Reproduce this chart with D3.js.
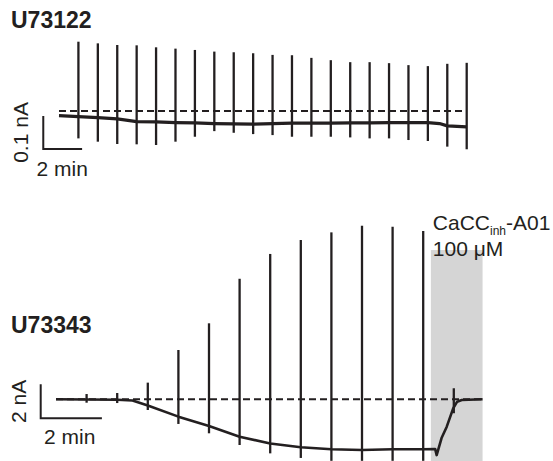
<!DOCTYPE html>
<html><head><meta charset="utf-8">
<script src="https://cdn.jsdelivr.net/npm/d3@7"></script>
<style>html,body{margin:0;padding:0;background:#fff;} svg{display:block;font-family:"Liberation Sans",Arial,sans-serif;}</style>
</head><body>
<svg id="chart" width="553" height="461"></svg>
<script>
// ---------- Panel A: U73122 (time in min, current in nA relative to baseline) ----------
const topTitle = "U73122";
const topSpikeTimes = [1,2,3,4,5,6,7,8,9,10,11,12,13,14,15,16,17,18,19,20,21];
const topSpikeMax = [0.210,0.205,0.200,0.199,0.193,0.189,0.185,0.180,0.178,0.175,0.170,0.169,0.161,0.154,0.148,0.148,0.145,0.139,0.136,0.143,0.146];
const topSpikeMin = [-0.083,-0.093,-0.100,-0.101,-0.103,-0.093,-0.078,-0.061,-0.066,-0.070,-0.073,-0.078,-0.078,-0.078,-0.080,-0.083,-0.083,-0.088,-0.091,-0.108,-0.116];
const topTraceT = [0,1,2,3,4,5,6,7,8,9,10,11,12,13,14,15,16,17,18,19,19.6,20,21];
const topTraceI = [-0.014,-0.017,-0.020,-0.024,-0.032,-0.033,-0.035,-0.036,-0.038,-0.039,-0.040,-0.038,-0.037,-0.037,-0.037,-0.036,-0.036,-0.035,-0.035,-0.035,-0.038,-0.045,-0.048];
const topScaleT = [-0.81, 1.19];      // 2 min
const topScaleI = [-0.015, -0.115];   // 0.1 nA
const topScaleLabels = ["0.1 nA", "2 min"];

// ---------- Panel B: U73343 ----------
const botTitle = "U73343";
const botSpikeTimes = [1,2,3,4,5,6,7,8,9,10,11,12,13];
const botSpikeMax = [0.31,0.37,0.98,2.90,4.47,7.09,8.55,9.37,9.82,10.21,10.15,9.90,0.65];
const botSpikeMin = [-0.20,-0.22,-0.63,-1.45,-2.00,-2.69,-3.18,-3.45,-3.62,-3.62,-3.62,-3.62,-0.82];
const botTraceT = [0,1,2,2.5,3,4,5,6,7,8,9,10,11,12,12.39,12.44,12.6,12.77,12.98,13.11,13.26,13.94];
const botTraceI = [0,-0.01,-0.03,-0.07,-0.36,-1.02,-1.57,-2.20,-2.60,-2.82,-2.94,-2.98,-2.94,-2.94,-2.92,-3.28,-2.28,-1.61,-0.53,-0.14,-0.04,0];
const botScaleT = [-0.5, 1.5];        // 2 min
const botScaleI = [0.88, -1.12];      // 2 nA
const botScaleLabels = ["2 nA", "2 min"];
const drugWindow = [12.25, 13.94];    // application period (min)
const drugTop = 8.78;
const drugLabel = ["CaCC", "inh", "-A01"];
const drugConc = "100 \u03BCM";

const ink = "#231f20";
const svg = d3.select("#chart");

function panel(cfg) {
  const x = d3.scaleLinear().domain(cfg.xDomain).range(cfg.xRange);
  const y = d3.scaleLinear().domain(cfg.yDomain).range(cfg.yRange);
  const g = svg.append("g");
  if (cfg.drug) {
    g.append("rect")
      .attr("x", x(cfg.drug[0])).attr("y", y(cfg.drugTop))
      .attr("width", x(cfg.drug[1]) - x(cfg.drug[0]))
      .attr("height", 461 - y(cfg.drugTop))
      .attr("fill", "#d5d5d5");
  }
  // baseline dashed
  g.append("line")
    .attr("x1", x(cfg.xDomain[0])).attr("x2", x(cfg.baseEnd))
    .attr("y1", y(0)).attr("y2", y(0))
    .attr("stroke", ink).attr("stroke-width", 2).attr("stroke-dasharray", "7,4");
  // spikes
  g.selectAll("line.spike").data(cfg.spT).join("line").attr("class","spike")
    .attr("x1", d => x(d)).attr("x2", d => x(d))
    .attr("y1", (d,i) => y(cfg.spMax[i])).attr("y2", (d,i) => y(cfg.spMin[i]))
    .attr("stroke", ink).attr("stroke-width", 2.3);
  // trace
  const line = d3.line().x(d => x(d[0])).y(d => y(d[1]));
  g.append("path").datum(cfg.trT.map((t,i) => [t, cfg.trI[i]]))
    .attr("d", line).attr("fill", "none").attr("stroke", ink)
    .attr("stroke-width", cfg.traceW).attr("stroke-linejoin", "round");
  // scale bar
  g.append("path")
    .attr("d", `M${x(cfg.sbT[0])},${y(cfg.sbI[0])}V${y(cfg.sbI[1])}H${x(cfg.sbT[1])}`)
    .attr("fill", "none").attr("stroke", ink).attr("stroke-width", 2);
  const vy = (y(cfg.sbI[0]) + y(cfg.sbI[1])) / 2;
  g.append("text").attr("transform", `translate(${cfg.vLabelX},${vy}) rotate(-90)`)
    .attr("text-anchor", "middle").attr("font-size", cfg.fs).attr("fill", ink)
    .text(cfg.sbLabels[0]);
  g.append("text").attr("x", (x(cfg.sbT[0]) + x(cfg.sbT[1])) / 2 + cfg.hLabelDx)
    .attr("y", cfg.hLabelY).attr("text-anchor", "middle")
    .attr("font-size", cfg.fs).attr("fill", ink).text(cfg.sbLabels[1]);
  // title
  g.append("text").attr("x", 11).attr("y", cfg.titleY)
    .attr("font-size", 23).attr("font-weight", "bold").attr("fill", ink).text(cfg.title);
  return {x, y, g};
}

panel({
  title: topTitle, titleY: 27.5,
  xDomain: [0, 21], xRange: [59, 466.7], yDomain: [0, -0.1], yRange: [111, 144],
  baseEnd: 21, spT: topSpikeTimes, spMax: topSpikeMax, spMin: topSpikeMin,
  trT: topTraceT, trI: topTraceI, traceW: 3.2,
  sbT: topScaleT, sbI: topScaleI, sbLabels: topScaleLabels,
  vLabelX: 28, hLabelDx: -0.5, hLabelY: 176, fs: 21
});

const B = panel({
  title: botTitle, titleY: 333,
  xDomain: [0, 13], xRange: [56, 453.8], yDomain: [0, -2], yRange: [399.3, 433.3],
  baseEnd: 13.94, spT: botSpikeTimes, spMax: botSpikeMax, spMin: botSpikeMin,
  trT: botTraceT, trI: botTraceI, traceW: 2.6,
  sbT: botScaleT, sbI: botScaleI, sbLabels: botScaleLabels,
  vLabelX: 25.5, hLabelDx: -1.5, hLabelY: 444, fs: 21,
  drug: drugWindow, drugTop: drugTop
});

const lab = svg.append("text").attr("x", B.x(drugWindow[0]) + 2).attr("y", 230)
  .attr("font-size", 21).attr("fill", ink);
lab.append("tspan").text(drugLabel[0]);
lab.append("tspan").attr("font-size", 12).attr("dy", 5).text(drugLabel[1]);
lab.append("tspan").attr("dy", -5).text(drugLabel[2]);
svg.append("text").attr("x", B.x(drugWindow[0]) + 2).attr("y", 256)
  .attr("font-size", 21).attr("fill", ink).text(drugConc);
</script>
</body></html>
